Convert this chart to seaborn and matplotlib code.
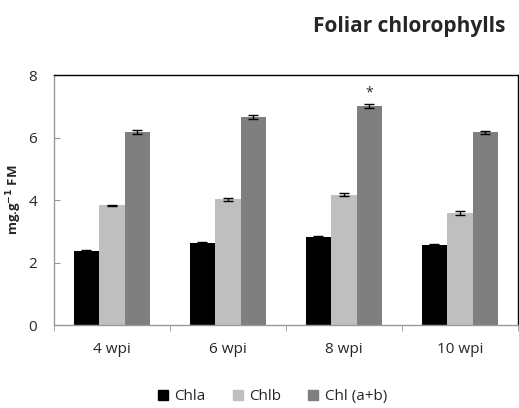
import matplotlib
matplotlib.use('Agg')
import matplotlib.pyplot as plt
import seaborn as sns
import pandas as pd

# ==========================================
# DATOS
# ==========================================

weeks = ['4 wpi', '6 wpi', '8 wpi', '10 wpi']
pigments = ['Chla', 'Chlb', 'Chl (a+b)']

chla = [2.37, 2.64, 2.83, 2.57]
chlb = [3.83, 4.02, 4.17, 3.59]
chl_total = [6.18, 6.66, 7.01, 6.17]

chla_err = [0.03, 0.03, 0.03, 0.03]
chlb_err = [0.03, 0.05, 0.05, 0.05]
chl_total_err = [0.06, 0.07, 0.05, 0.04]

colors = ['#000000', '#bfbfbf', '#7f7f7f']

rows = []
for i, w in enumerate(weeks):
    rows.append({'week': w, 'pigment': 'Chla', 'value': chla[i], 'err': chla_err[i]})
    rows.append({'week': w, 'pigment': 'Chlb', 'value': chlb[i], 'err': chlb_err[i]})
    rows.append({'week': w, 'pigment': 'Chl (a+b)', 'value': chl_total[i], 'err': chl_total_err[i]})
df = pd.DataFrame(rows)

# ==========================================
# GRAFICO
# ==========================================

sns.set_style('white')
plt.rcParams['font.family'] = ['Open Sans', 'DejaVu Sans']

fig = plt.figure(figsize=(5.19, 4.08), dpi=100)
ax = fig.add_axes([0.104, 0.203, 0.894, 0.613])

sns.barplot(
    data=df,
    x='week',
    y='value',
    hue='pigment',
    order=weeks,
    hue_order=pigments,
    palette=colors,
    errorbar=None,
    width=0.66,
    saturation=1,
    linewidth=0,
    ax=ax
)

# barras de error
for container, pig in zip(ax.containers, pigments):
    sub = df[df['pigment'] == pig].set_index('week').loc[weeks]
    xs = [b.get_x() + b.get_width() / 2 for b in container]
    ax.errorbar(
        xs,
        sub['value'],
        yerr=sub['err'],
        fmt='none',
        ecolor='black',
        elinewidth=1,
        capsize=3.5,
        capthick=1
    )

# asterisco sobre 8 wpi Chl (a+b)
bar = ax.containers[2][2]
ax.text(
    bar.get_x() + bar.get_width() / 2,
    chl_total[2] + chl_total_err[2] + 0.12,
    '*',
    ha='center',
    va='bottom',
    fontsize=10
)

ax.set_xlim(-0.5, 3.5)
ax.set_ylim(0, 8)
ax.set_yticks([0, 2, 4, 6, 8])
ax.set_xticks([-0.5, 0.5, 1.5, 2.5, 3.5], minor=True)
ax.tick_params(axis='x', which='major', length=0, labelsize=11, pad=12)
ax.tick_params(axis='x', which='minor', length=4, color='#999999', direction='out')
ax.tick_params(axis='y', length=4, color='#999999', labelsize=11, direction='in', pad=12)
ax.xaxis.set_ticks_position('bottom')
ax.yaxis.set_ticks_position('left')

ax.spines['left'].set_color('#999999')
ax.spines['bottom'].set_color('#999999')
ax.spines['top'].set_color('black')
ax.spines['right'].set_color('black')
for s in ax.spines.values():
    s.set_linewidth(1)

ax.set_xlabel('')
ax.set_ylabel(r'mg.g$^{\mathbf{-1}}$ FM', fontsize=9.5, fontweight='bold')
ax.yaxis.set_label_coords(-0.065, 0.5)

fig.text(0.973, 0.935, 'Foliar chlorophylls', ha='right', va='center',
         fontsize=15, fontweight='bold')

ax.legend_.remove()
handles = [plt.Line2D([], [], marker='s', linestyle='', markersize=6.5,
                      color=c) for c in colors]
fig.legend(
    handles,
    pigments,
    loc='center',
    bbox_to_anchor=(0.521, 0.027),
    ncol=3,
    frameon=False,
    handletextpad=0.15,
    handlelength=1.2,
    columnspacing=1.5,
    fontsize=11
)

fig.savefig('out.png', dpi=100)
